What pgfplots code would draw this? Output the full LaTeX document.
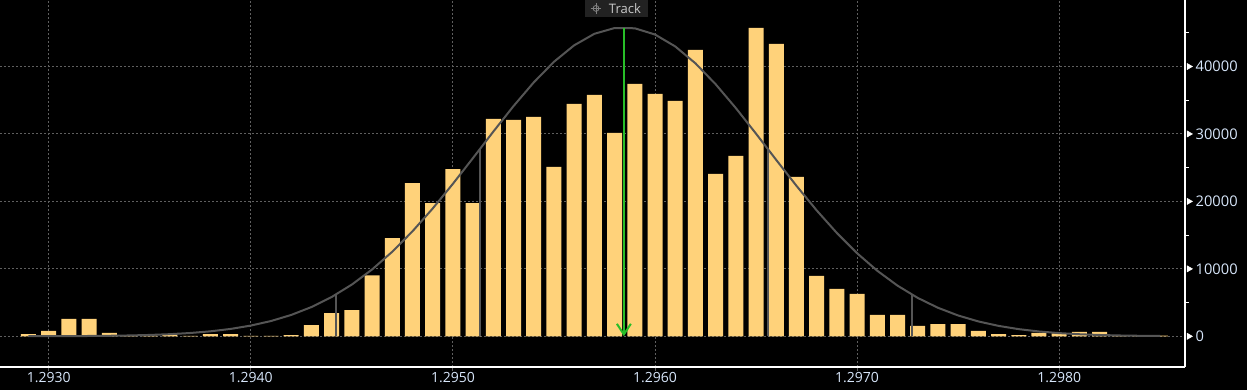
\documentclass[border=0pt]{standalone}
\usepackage{fontspec}
\setmainfont{Open Sans}
\usepackage{pgfplots}
\pgfplotsset{compat=1.18}
\usepackage{pgfplotstable}
\usetikzlibrary{arrows.meta}
\definecolor{barcol}{RGB}{255,210,122}
\definecolor{curvecol}{RGB}{85,85,85}
\definecolor{gridcol}{RGB}{95,95,95}
\definecolor{labcol}{RGB}{215,230,250}
\definecolor{trackgreen}{RGB}{40,190,40}
\definecolor{trackbg}{RGB}{34,34,34}
\definecolor{tracktext}{RGB}{200,200,200}

% x: price offset in units of 0.0001 from 1.2900 (u=30 -> 1.2930)
\pgfplotstableread{
u count
29 340
30 790
31 2570
32 2570
33 490
34 30
35 100
36 190
37 60
38 340
39 340
40 60
41 60
42 190
43 1650
44 3430
45 3880
46 9050
47 14540
48 22700
49 19750
50 24780
51 19750
52 32240
53 32090
54 32540
55 25120
56 34460
57 35800
58 30160
59 37430
60 35950
61 34910
62 42480
63 24080
64 26750
65 45740
66 43370
67 23630
68 8950
69 7020
70 6280
71 3160
72 3160
73 1530
74 1820
75 1820
76 790
77 340
78 190
79 490
80 440
81 640
82 640
83 100
84 60
85 100
}\bars

\pgfplotstableread{
u fit
29 9
30 16
31 27
32 46
33 77
34 125
35 201
36 316
37 488
38 737
39 1093
40 1589
41 2265
42 3166
43 4336
44 5825
45 7672
46 9906
47 12540
48 15567
49 18947
50 22611
51 26454
52 30347
53 34135
54 37643
55 40698
56 43144
57 44847
58 45704
59 45668
60 44742
61 42979
62 40473
63 37373
64 33837
65 30036
66 26143
67 22309
68 18668
69 15311
70 12316
71 9714
72 7511
73 5693
74 4231
75 3084
76 2204
77 1543
78 1060
79 714
80 472
81 305
82 194
83 120
84 74
85 44
}\fit

\begin{document}
\begin{tikzpicture}
\fill[black] (0pt,0pt) rectangle (935.25pt,292.5pt);
\begin{axis}[
  at={(0pt,17.25pt)}, anchor=south west,
  scale only axis, width=888.75pt, height=275.25pt,
  xmin=27.59, xmax=86.225, ymin=-4552, ymax=49860,
  axis x line=bottom, axis y line=right,
  axis line style={white, line width=1.1pt, -},
  clip=false,
  scaled y ticks=false,
  xtick={30,40,50,60,70,80},
  xticklabels={1.2930,1.2940,1.2950,1.2960,1.2970,1.2980},
  ytick={0,10000,20000,30000,40000},
  yticklabels={0,10000,20000,30000,40000},
  minor ytick={5000,15000,25000,35000,45000},
  xmajorgrids, ymajorgrids,
  grid style={gridcol, line width=0.75pt, dash pattern=on 1.5pt off 1.5pt},
  tick align=outside,
  major tick length=3pt, minor tick length=3pt,
  major x tick style={gridcol, line width=0.75pt},
  major y tick style={draw=none},
  minor y tick style={white, line width=0.75pt},
  tick label style={text=labcol},
  xticklabel style={font=\fontsize{10.5}{12}\selectfont, yshift=2.5pt},
  yticklabel style={font=\fontsize{11}{12}\selectfont, xshift=1.5pt},
]
\addplot[ybar, bar width=11.25pt, bar shift=0pt, fill=barcol, draw=none] table[x=u,y=count]{\bars};
\addplot[curvecol, line width=1.5pt, no markers] table[x=u,y=fit]{\fit};
\addplot[curvecol, line width=1.5pt, no markers] coordinates {(44.22,0) (44.22,6185)};
\addplot[curvecol, line width=1.5pt, no markers] coordinates {(51.34,0) (51.34,27718)};
\addplot[curvecol, line width=1.5pt, no markers] coordinates {(65.58,0) (65.58,27718)};
\addplot[curvecol, line width=1.5pt, no markers] coordinates {(72.70,0) (72.70,6185)};
\addplot[trackgreen, line width=1.5pt, no markers, -{Straight Barb[length=8pt, width=10.5pt, line width=1.5pt]}] coordinates {(58.46,45700) (58.46,0)};
\addplot[only marks, mark=triangle*, mark size=2.6pt, mark options={white, draw=white, rotate=-90}] coordinates {(86.42,0) (86.42,10000) (86.42,20000) (86.42,30000) (86.42,40000)};
\end{axis}
% Track box
\fill[trackbg] (438.75pt,279.75pt) rectangle (486pt,292.5pt);
\draw[gray, line width=0.6pt] (447pt,286.2pt) circle (2.2pt);
\draw[gray, line width=0.6pt] (443pt,286.2pt) -- (451pt,286.2pt) (447pt,282.2pt) -- (447pt,290.2pt);
\node[anchor=west, inner sep=0pt, text=tracktext, font=\fontsize{9.8}{10}\selectfont] at (456.5pt,286.2pt) {Track};
\pgfresetboundingbox
\useasboundingbox (0pt,0pt) rectangle (935.25pt,292.5pt);
\end{tikzpicture}
\end{document}
